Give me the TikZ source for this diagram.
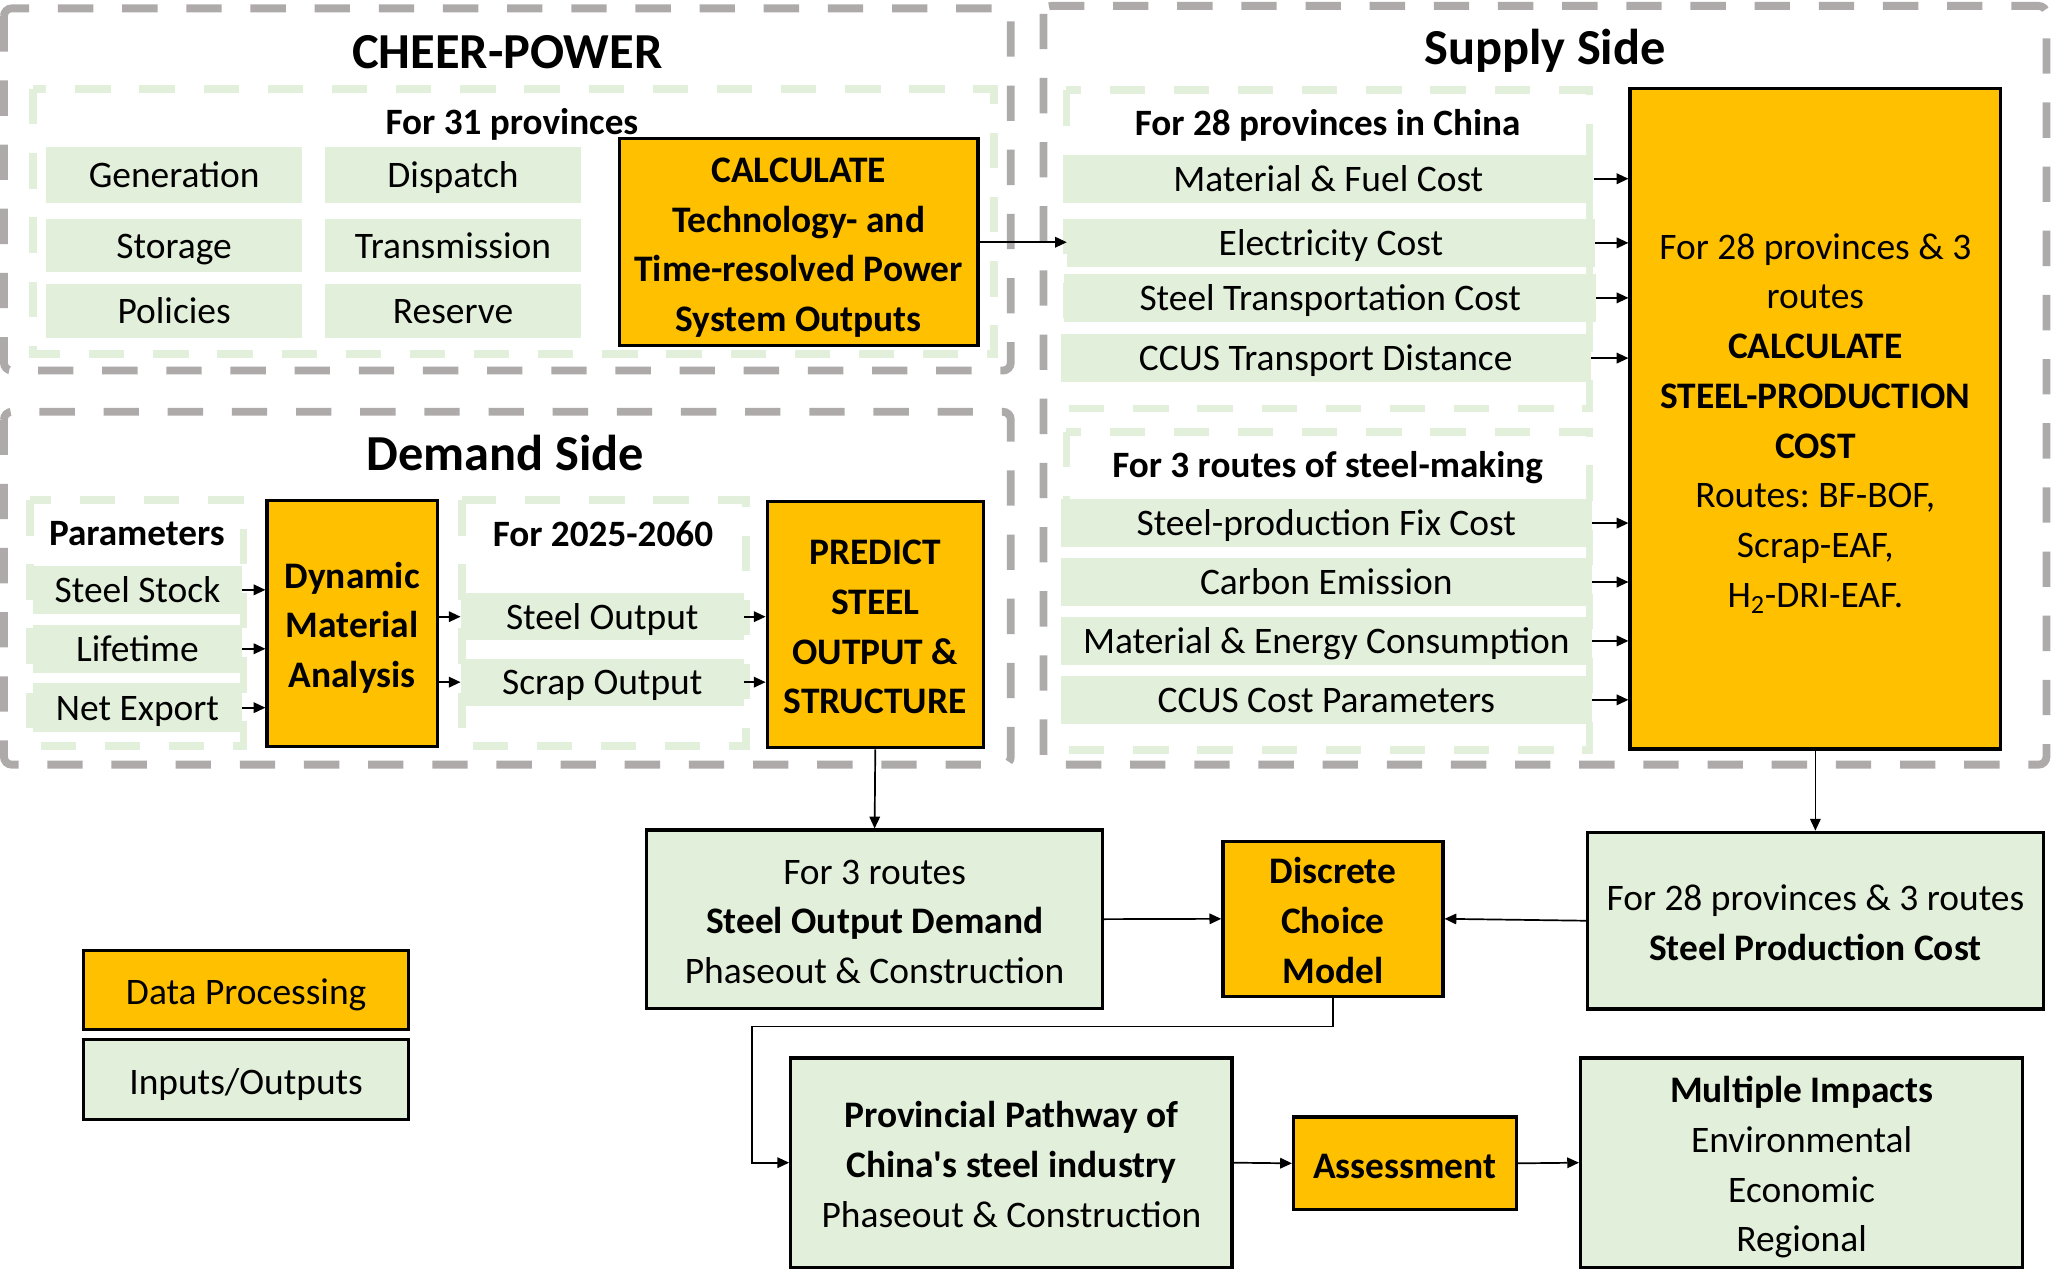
\documentclass[tikz,border=0pt]{standalone}
\usepackage{fontspec}
\setmainfont{Carlito}[Ligatures=TeXOff]
\usetikzlibrary{arrows.meta}
\definecolor{orgP}{HTML}{FFC000}
\definecolor{grnC}{HTML}{E2EFDA}
\definecolor{grayD}{HTML}{AEAAAA}
\newcommand\bst{\rule{0pt}{30.4pt}}
\newcommand\est{\rule[-8pt]{0pt}{8pt}}
\tikzset{
 outerbox/.style={draw=grayD, line width=6pt, dash pattern=on 27pt off 22pt, rounded corners=6pt},
 innerbox/.style={draw=grnC, line width=6pt, dash pattern=on 27pt off 22pt},
 cell/.style={fill=grnC, inner sep=0pt, font=\fontsize{28.6}{38}\selectfont, text height=21pt, text depth=1.6pt},
 multi/.style={inner sep=0pt, align=center},
 proc/.style={multi, fill=orgP, draw=black, line width=2.5pt, font=\fontsize{28.6}{38}\selectfont},
 procb/.style={proc, font=\fontsize{28.6}{38}\selectfont\bfseries},
 io/.style={multi, fill=grnC, draw=black, line width=2.5pt, font=\fontsize{28.6}{38}\selectfont},
 ttl/.style={font=\fontsize{38.5}{44}\selectfont\bfseries, inner sep=0pt, anchor=base},
 hdr/.style={font=\fontsize{28.4}{38}\selectfont\bfseries, inner sep=0pt, anchor=base},
 arr/.style={-{Triangle[length=9pt,width=8pt]}, line width=1.5pt},
}
\begin{document}
\frenchspacing
\begin{tikzpicture}[x=1pt,y=-1pt]
\useasboundingbox (0,0) rectangle (1568,980.7);
% outer gray dashed frames
\draw[outerbox] (3,6.4) rectangle (772,283);
\draw[outerbox] (3,314.5) rectangle (772,584);
\draw[outerbox] (797,4.5) rectangle (1563,584);
% inner green dashed frames
\draw[innerbox] (25.5,68) rectangle (759,270.5);
\draw[innerbox] (814.5,69) rectangle (1214,312);
\draw[innerbox] (814.5,330) rectangle (1214,573);
\draw[innerbox] (23,382) rectangle (186,570);
\draw[innerbox] (353,382) rectangle (570,570);
% titles
\node[ttl] (tcheer) at (387.5,52) {CHEER-POWER};
\node[ttl] (tsupply) at (1180,49.5) {Supply Side};
\node[ttl] (tdemand) at (386,359.5) {Demand Side};
\node[hdr] (h31) at (391,102.8) {For 31 provinces};
\node[hdr] (h28) at (1014,103.3) {For 28 provinces in China};
\node[hdr] (h3r) at (1014,365) {For 3 routes of steel-making};
\node[hdr] (hpar) at (104.5,416.5) {Parameters};
\node[hdr] (hyr) at (460.5,417.2) {For 2025-2060};
% CHEER-POWER cells
\node[cell, minimum width=196pt, minimum height=43pt] (gen) at (133,133.5) {Generation};
\node[cell, minimum width=196pt, minimum height=43pt] (dis) at (346,133.5) {Dispatch};
\node[cell, minimum width=196pt, minimum height=41pt] (sto) at (133,187.5) {Storage};
\node[cell, minimum width=196pt, minimum height=41pt] (tra) at (346,187.5) {Transmission};
\node[cell, minimum width=196pt, minimum height=41pt] (pol) at (133,237.5) {Policies};
\node[cell, minimum width=196pt, minimum height=41pt] (res) at (346,237.5) {Reserve};
\node[procb, minimum width=274pt, minimum height=158pt] (calc) at (610,185) {\bst CALCULATE\\Technology- and\\Time-resolved Power\\System Outputs\est};
% Supply cells
\node[cell, minimum width=405pt, minimum height=37pt] (mf) at (1014.5,136.5) {Material \& Fuel Cost};
\node[cell, minimum width=403pt, minimum height=37pt] (el) at (1016.5,185.5) {Electricity Cost};
\node[cell, minimum width=406pt, minimum height=37pt] (stc) at (1016,227.5) {Steel Transportation Cost};
\node[cell, minimum width=405pt, minimum height=37pt] (ctd) at (1012.5,273.5) {CCUS Transport Distance};
\node[cell, minimum width=406pt, minimum height=37pt] (fix) at (1013,399.5) {Steel-production Fix Cost};
\node[cell, minimum width=406pt, minimum height=37pt] (ce) at (1013,444.5) {Carbon Emission};
\node[cell, minimum width=406pt, minimum height=37pt] (mec) at (1013,489.5) {Material \& Energy Consumption};
\node[cell, minimum width=406pt, minimum height=37pt] (ccp) at (1013,534.5) {CCUS Cost Parameters};
\node[proc, minimum width=283pt, minimum height=504.5pt] (big) at (1386.5,319.75) {\bst For 28 provinces \& 3\\routes\\\textbf{CALCULATE}\\\textbf{STEEL-PRODUCTION}\\\textbf{COST}\\Routes: BF-BOF,\\Scrap-EAF,\\H\textsubscript{2}-DRI-EAF.\est};
% Demand cells
\node[cell, minimum width=160pt, minimum height=37pt] (ss) at (105,450.5) {Steel Stock};
\node[cell, minimum width=160pt, minimum height=37pt] (lt) at (105,495.5) {Lifetime};
\node[cell, minimum width=160pt, minimum height=37pt] (ne) at (105,540.5) {Net Export};
\node[procb, minimum width=130pt, minimum height=188pt] (dma) at (269,476) {\bst Dynamic\\Material\\Analysis\est};
\node[cell, minimum width=216pt, minimum height=36pt] (so) at (460,471) {Steel Output};
\node[cell, minimum width=216pt, minimum height=36pt] (sco) at (460,521) {Scrap Output};
\node[procb, minimum width=165pt, minimum height=188pt] (pred) at (668.5,477) {\bst PREDICT\\STEEL\\OUTPUT \&\\STRUCTURE\est};
% bottom part
\node[io, minimum width=348pt, minimum height=136pt] (sod) at (668,702) {\bst For 3 routes\\\textbf{Steel Output Demand}\\Phaseout \& Construction\est};
\node[procb, minimum width=168pt, minimum height=118.5pt] (dcm) at (1018,701.75) {\bst Discrete\\Choice\\Model\est};
\node[io, minimum width=348pt, minimum height=135pt] (spc) at (1386.5,703.2) {\bst For 28 provinces \& 3 routes\\\textbf{Steel Production Cost}\est};
\node[io, minimum width=337pt, minimum height=160pt] (prov) at (772.5,888) {\bst\textbf{Provincial Pathway of}\\\textbf{China's steel industry}\\Phaseout \& Construction\est};
\node[procb, minimum width=170pt, minimum height=71pt] (ass) at (1073,888.5) {\bst Assessment\est};
\node[io, minimum width=337.5pt, minimum height=160pt] (mult) at (1376,888) {\bst\textbf{Multiple Impacts}\\Environmental\\Economic\\Regional\est};
% legend
\node[proc, minimum width=248pt, minimum height=60pt] (leg1) at (188,756) {\bst Data Processing\est};
\node[io, minimum width=248pt, minimum height=61pt] (leg2) at (188,824.5) {\bst Inputs/Outputs\est};
% connectors
\draw[arr] (calc.east) -- (calc.east -| el.west);
\foreach \n in {mf,el,stc,ctd,fix,ce,mec,ccp} {\draw[arr] (\n.east) -- (\n.east -| big.west);}
\foreach \n in {ss,lt,ne} {\draw[arr] (\n.east) -- (\n.east -| dma.west);}
\foreach \n in {so,sco} {\draw[arr] (dma.east |- \n.west) -- (\n.west); \draw[arr] (\n.east) -- (\n.east -| pred.west);}
\draw[arr, line width=1.3pt] (pred.south) -- (sod.north);
\draw[arr, line width=1.3pt] (big.south) -- (spc.north);
\draw[arr, line width=1.3pt] (sod.east) -- (dcm.west);
\draw[arr, line width=1.3pt] (spc.west) -- (dcm.east);
\coordinate (k1) at (574.5,784);
\draw[arr, line width=1.3pt] (dcm.south) |- (k1) |- (prov.west);
\draw[arr, line width=1.3pt] (prov.east) -- (ass.west);
\draw[arr, line width=1.3pt] (ass.east) -- (mult.west);
\end{tikzpicture}
\end{document}
